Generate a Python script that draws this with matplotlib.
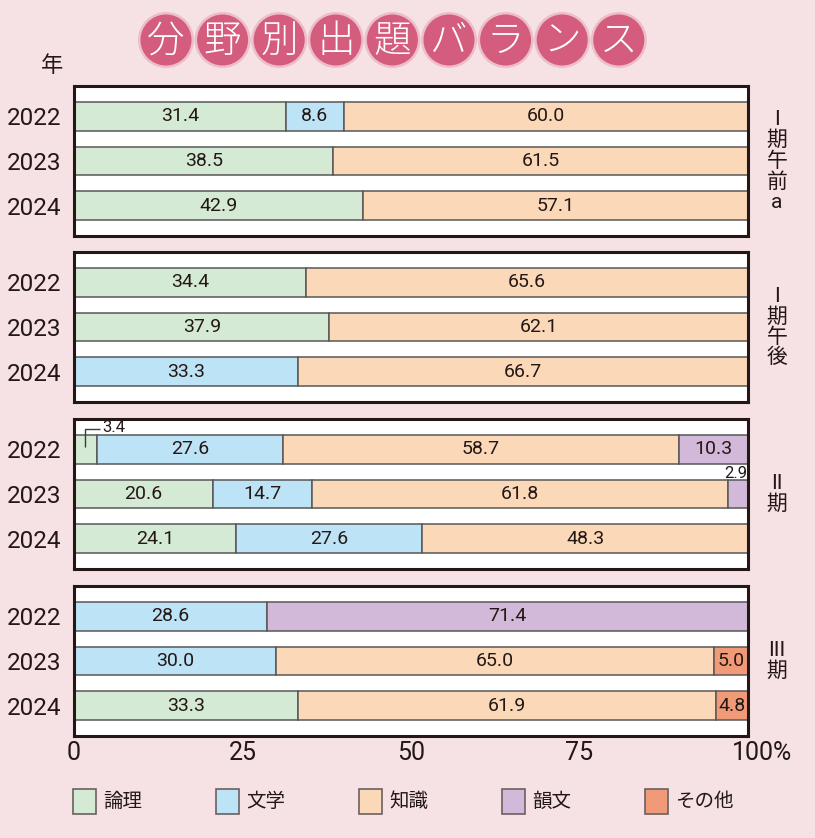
import matplotlib
matplotlib.use('Agg')
import matplotlib.pyplot as plt
from matplotlib.patches import Circle, Rectangle

# data, percent per exam session (rows) and year (cols)
years = ['2022', '2023', '2024']
sessions = ['I\n期\n午\n前\na', 'I\n期\n午\n後', 'II\n期', 'III\n期']
categories = ['論理', '文学', '知識', '韻文', 'その他']
colors = ['#d5ead5', '#bde3f6', '#fbd8b8', '#d3b9d9', '#f19a77']

ronri    = [[31.4, 38.5, 42.9], [34.4, 37.9, 0.0], [3.4, 20.6, 24.1], [0.0, 0.0, 33.3]]
bungaku  = [[8.6, 0.0, 0.0], [0.0, 0.0, 33.3], [27.6, 14.7, 27.6], [28.6, 30.0, 0.0]]
chishiki = [[60.0, 61.5, 57.1], [65.6, 62.1, 66.7], [58.7, 61.8, 48.3], [0.0, 65.0, 61.9]]
inbun    = [[0.0, 0.0, 0.0], [0.0, 0.0, 0.0], [10.3, 2.9, 0.0], [71.4, 0.0, 0.0]]
sonota   = [[0.0, 0.0, 0.0], [0.0, 0.0, 0.0], [0.0, 0.0, 0.0], [0.0, 5.0, 4.8]]
series = [ronri, bungaku, chishiki, inbun, sonota]

xticks = [0, 25, 50, 75, 100]
title_chars = list('分野別出題バランス')

NUM = 'Roboto'
JP = 'Noto Sans CJK JP'
plt.rcParams['font.family'] = [NUM, JP, 'DejaVu Sans']

BG = '#f6e1e5'
INK = '#231815'
W, H = 815, 838
fig = plt.figure(figsize=(W / 100, H / 100), dpi=100)
fig.patch.set_facecolor(BG)

# panel placement in pixels
left, right = 74, 748
tops = [86, 252, 419, 586]
ph = 150

axes = []
for p in range(4):
    top = tops[p]
    ax = fig.add_axes([left / W, 1 - (top + ph) / H, (right - left) / W, ph / H])
    ax.set_facecolor('white')
    ax.set_xlim(0, 100)
    ax.set_ylim(2.685, -0.685)
    for s in ax.spines.values():
        s.set_linewidth(2.2)
        s.set_color(INK)
    ax.set_yticks(range(3))
    ax.set_yticklabels(years, fontsize=17.5, color=INK)
    ax.tick_params(axis='y', length=0, pad=9)
    ax.set_xticks(xticks)
    ax.tick_params(axis='x', length=0)
    ax.set_xticklabels([])

    for r in range(3):
        lefts = 0.0
        for c in range(5):
            v = series[c][p][r]
            if v <= 0:
                continue
            ax.barh(r, v, left=lefts, height=0.65, color=colors[c],
                    edgecolor='#595757', linewidth=1.1)
            cx = lefts + v / 2
            if v >= 4:
                ax.text(cx, r, f'{v:.1f}', ha='center', va='center',
                        fontsize=14, color=INK)
            elif c == 0:
                # leader line to a small first segment
                ax.plot([cx, cx, cx + 2.2], [r - 0.06, r - 0.46, r - 0.46],
                        color='#3e3a39', lw=1, solid_capstyle='butt')
                ax.text(cx + 2.5, r - 0.49, f'{v:.1f}', ha='left', va='center',
                        fontsize=12, color=INK)
            else:
                ax.text(lefts + v - 0.1, r - 0.47, f'{v:.1f}', ha='right',
                        va='center', fontsize=12, color=INK)
            lefts += v

    ax.text(1.043, 0.5, sessions[p], transform=ax.transAxes, ha='center',
            va='center', fontsize=15, color=INK, linespacing=1.08,
            family=[NUM, JP])
    axes.append(ax)

# x tick labels under the last panel
last = axes[-1]
for t in xticks:
    lab = f'{t}' if t < 100 else '100%'
    ha = 'center'
    off = 0
    if t == 100:
        ha = 'left'
        off = -16
    last.annotate(lab, (t, 0), xycoords=('data', 'axes fraction'),
                  xytext=(off, -5), textcoords='offset pixels',
                  ha=ha, va='top', fontsize=18, color=INK)

fig.text(52 / W, 1 - 66 / H, '年', ha='center', va='center', fontsize=16,
         color=INK, family=JP)

# title badges
tax = fig.add_axes([0, 0, 1, 1])
tax.set_xlim(0, W)
tax.set_ylim(H, 0)
tax.axis('off')
for i, ch in enumerate(title_chars):
    cx = 166 + i * 56.6
    tax.add_patch(Circle((cx, 40), 28, facecolor='#eebdca', edgecolor='none'))
    tax.add_patch(Circle((cx, 40), 25.5, facecolor='#d45d7e', edgecolor='none'))
    tax.text(cx, 41, ch, ha='center', va='center', fontsize=27, color='white',
             family=JP, weight='light')

# legend
for i, name in enumerate(categories):
    x0 = 73 + i * 143
    tax.add_patch(Rectangle((x0, 789), 23, 25, facecolor=colors[i],
                            edgecolor='#6b6060', linewidth=1.2))
    tax.text(x0 + 30, 801, name, ha='left', va='center', fontsize=14,
             color=INK, family=JP)

fig.savefig('out.png', dpi=100, facecolor=BG)
